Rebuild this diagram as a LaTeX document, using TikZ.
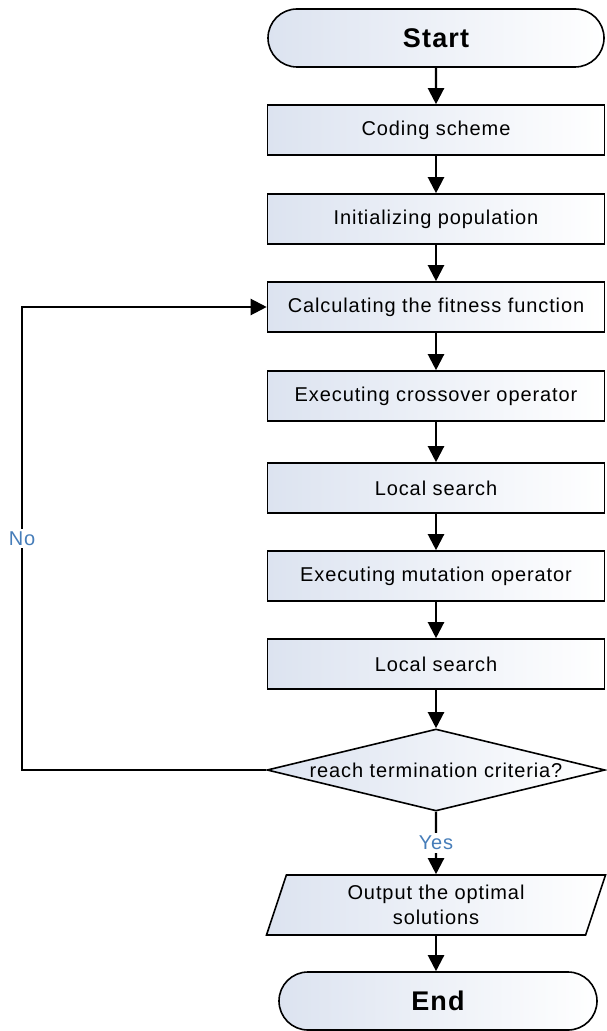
\documentclass[tikz,border=0pt]{standalone}
\usepackage{fontspec}
\setmainfont{Liberation Sans}[LetterSpace=4.5]
\usepackage{tikz}
\usetikzlibrary{shapes.geometric,shapes.misc,arrows.meta}

\definecolor{boxblue}{RGB}{220,227,240}
\definecolor{lblblue}{RGB}{70,125,185}

\tikzset{
	process/.style={draw,line width=0.8pt,left color=boxblue,right color=white,
		minimum width=168.5pt,minimum height=25pt,inner sep=0pt,
		font=\fontsize{10}{12}\selectfont},
	startstop/.style={rounded rectangle,draw,line width=0.8pt,left color=boxblue,right color=white,
		minimum height=29pt,inner sep=0pt,font=\fontsize{13.5}{16}\selectfont\bfseries},
	decision/.style={diamond,draw,line width=0.8pt,left color=boxblue,right color=white,
		minimum width=169pt,minimum height=41pt,inner sep=0pt},
	io/.style={trapezium,trapezium left angle=63.4,trapezium right angle=116.6,
		trapezium stretches body=true,draw,line width=0.8pt,left color=boxblue,right color=white,
		minimum width=169.5pt,minimum height=30pt,inner sep=0pt,align=center,
		font=\fontsize{10}{12.5}\selectfont},
	line/.style={line width=1.1pt,-{Triangle[width=8pt,length=8pt]}},
	lbl/.style={fill=white,text=lblblue,inner sep=1.5pt,font=\fontsize{10}{12}\selectfont}
}

\begin{document}
\begin{tikzpicture}[x=0.5pt,y=-0.5pt]
	\useasboundingbox (0,0) rectangle (606,1031);
	
	% Draw terminals and steps
	\node[startstop,minimum width=168pt] (start) at (436,38) {Start};
	\node[process] (code) at (436,130) {Coding scheme};
	\node[process] (init) at (436,219) {Initializing population};
	\node[process] (calc) at (436,307) {Calculating the fitness function};
	\node[process] (cross) at (436,396) {Executing crossover operator};
	\node[process] (search1) at (436,488) {Local search};
	\node[process] (mut) at (436,576) {Executing mutation operator};
	\node[process] (search2) at (436,664) {Local search};
	
	% Draw decision
	\node[decision] (crit) at (436,770) {};
	\node[font=\fontsize{10}{12}\selectfont] (critText) at (crit) {reach termination criteria?};
	
	% Draw output and end
	\node[io] (out) at (436,905) {Output the optimal\\solutions};
	\node[startstop,minimum width=159pt] (end) at (438,1001) {End};
	
	% Draw arrows
	\draw[line] (start) -- (code);
	\draw[line] (code) -- (init);
	\draw[line] (init) -- (calc);
	\draw[line] (calc) -- (cross);
	\draw[line] (cross) -- (search1);
	\draw[line] (search1) -- (mut);
	\draw[line] (mut) -- (search2);
	\draw[line] (search2) -- (crit);
	\draw[line] (crit.south) -- node[lbl] (yes) {Yes} (out.north);
	\draw[line] (out.south) -- (out.south |- end.north);
	
	% Draw loop back
	\coordinate (loopcorner) at (22,770);
	\draw[line] (crit.west) -- (loopcorner) |- node[lbl,pos=0.25] (no) {No} (calc.west);
	
\end{tikzpicture}
\end{document}
